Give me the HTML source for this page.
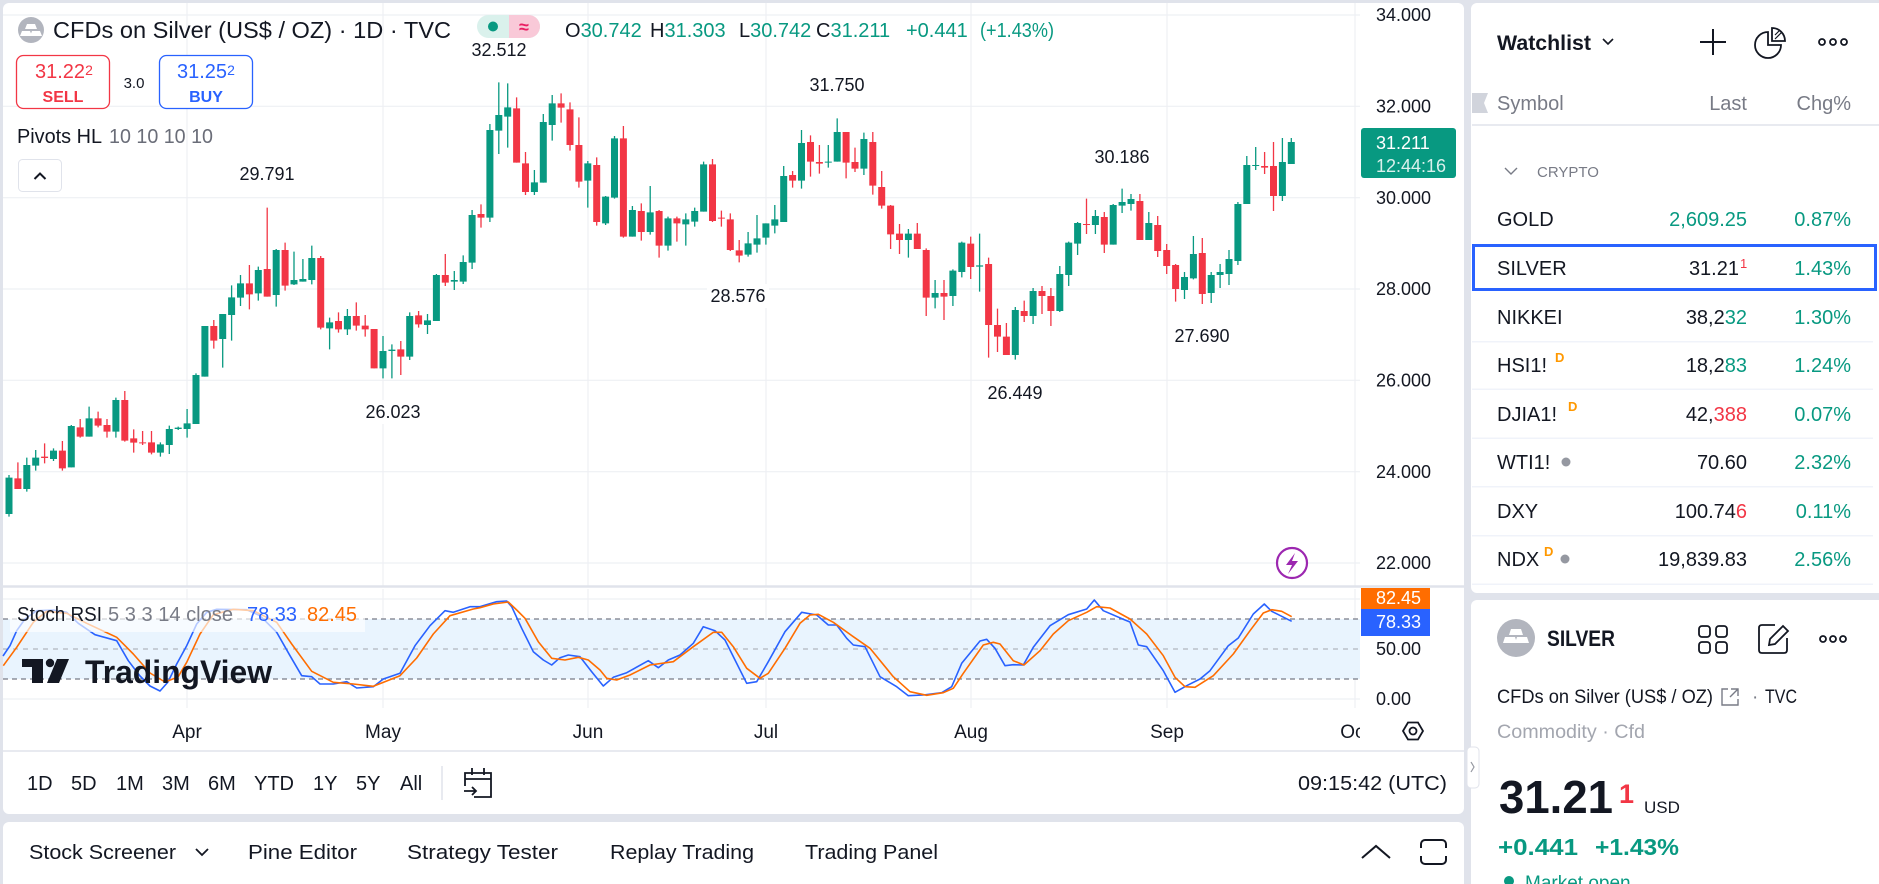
<!DOCTYPE html>
<html><head><meta charset="utf-8"><style>
html,body{margin:0;padding:0;background:#e0e3eb;}
svg{display:block;}
text{font-family:"Liberation Sans",sans-serif;fill:#131722;}
.g{fill:#787b86;}
.gr{fill:#089981;}
.rd{fill:#f23645;}
.ax{font-size:18px;}
.pv{font-size:18px;text-anchor:middle;}
.wl{font-size:20px;}
.end{text-anchor:end;}
</style></head><body>
<svg width="1879" height="884" viewBox="0 0 1879 884" xmlns="http://www.w3.org/2000/svg">
<rect x="0" y="0" width="1879" height="884" fill="#e0e3eb"/>
<!-- panels -->
<rect x="3" y="3" width="1461" height="811" rx="6" fill="#fff"/>
<rect x="3" y="822" width="1461" height="90" rx="6" fill="#fff"/>
<rect x="1471" y="3" width="420" height="590" rx="6" fill="#fff"/>
<rect x="1471" y="600" width="420" height="300" rx="6" fill="#fff"/>

<!-- gridlines main -->
<g stroke="#eef0f4" stroke-width="1.2">
<path d="M3 15H1360M3 106.3H1360M3 197.7H1360M3 289H1360M3 380.3H1360M3 471.7H1360M3 563H1360"/>
<path d="M187 3V586M383 3V586M588 3V586M766 3V586M971 3V586M1167 3V586M1355 3V586"/>
<path d="M187 589V708M383 589V708M588 589V708M766 589V708M971 589V708M1167 589V708M1355 589V708"/>
<path d="M3 599H1360M3 699H1360"/>
</g>
<!-- pane separator -->
<path d="M3 586.5H1464" stroke="#e0e3eb" stroke-width="2.5"/>
<!-- RSI band -->
<rect x="3" y="619" width="1357" height="60" fill="#e9f4fe"/>
<path d="M3 619H1360M3 679H1360" stroke="#787b86" stroke-width="1.3" stroke-dasharray="5 4"/>
<path d="M3 649H1360" stroke="#a3a6af" stroke-width="1" stroke-dasharray="5 5"/>

<!-- candles -->
<g transform="translate(0 60) scale(1 0.333333)" fill="none">
<path stroke="#089981" stroke-width="1.3" vector-effect="non-scaling-stroke" d="M9 1245V1370M26.8 1193V1295M35.7 1170V1232M53.5 1165V1203M71.3 1095V1222M89.1 1040V1130M115.9 1013V1133M160.4 1147V1190M169.3 1097V1182M178.2 1100V1110M187.1 1047V1133M196 940V1092M204.9 798V950M222.7 762V923M231.6 676V842M240.5 645V738M258.3 620V722M276.2 567V740M294 575V675M302.9 597V665M311.8 557V673M329.6 773V868M347.4 747V825M383 828V955M391.9 853V955M409.7 757V900M427.5 762V822M436.4 642V783M454.3 633V690M463.2 586V672M472.1 450V627M489.9 192V486M498.8 67V282M507.7 70V263M534.4 330V405M543.3 162V368M552.2 105V242M587.8 303V443M605.6 408V495M614.5 228V416M632.4 438V530M650.2 378V524M668 470V572M685.8 460V557M694.7 443V500M703.6 305V455M748.1 516V590M757 465V578M765.9 490V554M774.8 435V520M783.7 318V486M801.5 210V386M828.3 255V323M837.2 175V305M863.9 218V345M908.4 507V593M935.1 660V745M952.9 628V738M961.8 545V652M979.6 521V695M1015.3 741V899M1033.1 684V792M1059.8 618V756M1068.7 545V678M1077.6 486V585M1095.4 450V522M1113.2 432V554M1122.1 386V459M1131 402V452M1148.8 456V540M1184.5 636V717M1193.4 528V658M1211.2 636V729M1220.1 612V684M1229 570V675M1237.9 426V615M1246.8 288V432M1255.7 261V330M1282.4 234V423M1291.3 234V312"/>
<path stroke="#089981" stroke-width="7" vector-effect="non-scaling-stroke" d="M9 1253V1362M26.8 1215V1287M35.7 1193V1217M53.5 1172V1197M71.3 1098V1222M89.1 1075V1130M115.9 1020V1115M160.4 1153V1178M169.3 1107V1155M178.2 1103V1107M187.1 1090V1107M196 945V1092M204.9 798V950M222.7 762V837M231.6 712V765M240.5 670V713M258.3 630V700M276.2 570V705M294 660V673M302.9 657V665M311.8 594V660M329.6 787V805M347.4 768V808M383 873V925M391.9 869V873M409.7 768V890M427.5 781V795M436.4 645V783M454.3 660V665M463.2 606V665M472.1 465V608M489.9 210V473M498.8 165V212M507.7 142V170M534.4 367V396M543.3 186V368M552.2 130V195M587.8 310V362M605.6 410V490M614.5 235V413M632.4 450V530M650.2 457V516M668 475V557M685.8 478V493M694.7 453V485M703.6 313V455M748.1 550V584M757 535V554M765.9 490V533M774.8 478V497M783.7 348V486M801.5 249V362M828.3 305V308M837.2 216V305M863.9 237V326M908.4 521V540M935.1 699V713M952.9 632V708M961.8 548V636M979.6 616V620M1015.3 750V885M1033.1 693V768M1059.8 642V753M1068.7 548V645M1077.6 489V551M1095.4 468V495M1113.2 435V554M1122.1 426V437M1131 417V432M1148.8 489V540M1184.5 651V690M1193.4 582V655M1211.2 645V699M1220.1 636V645M1229 597V642M1237.9 432V603M1246.8 315V432M1255.7 315V318M1282.4 306V408M1291.3 246V312"/>
<path stroke="#f23645" stroke-width="1.3" vector-effect="non-scaling-stroke" d="M17.9 1207V1287M44.6 1150V1210M62.4 1143V1232M80.2 1077V1133M98.1 1055V1102M107 1077V1133M124.8 993V1145M133.7 1108V1178M142.6 1113V1155M151.5 1113V1183M213.8 780V866M249.4 615V748M267.2 443V710M285.1 548V692M320.7 588V808M338.5 757V818M356.3 727V812M365.2 765V830M374.1 807V925M400.8 843V945M418.6 753V803M445.3 582V678M481 433V503M516.6 112V308M525.5 276V405M561.1 100V188M570 127V272M578.9 172V383M596.7 292V497M623.4 198V533M641.3 430V542M659.1 450V593M676.9 470V545M712.5 297V486M721.4 452V500M730.3 460V573M739.2 540V607M792.6 333V383M810.5 226V350M819.4 255V341M846.1 216V355M855 263V336M872.8 216V404M881.7 333V446M890.6 435V567M899.5 492V582M917.3 489V567M926.2 565V768M944 660V780M970.7 530V657M988.6 593V893M997.5 746V876M1006.4 789V885M1024.2 722V786M1042 678V762M1050.9 684V798M1086.5 416V522M1104.3 456V579M1139.9 402V540M1157.7 468V591M1166.7 552V642M1175.6 612V725M1202.3 534V732M1264.6 276V342M1273.5 246V453"/>
<path stroke="#f23645" stroke-width="7" vector-effect="non-scaling-stroke" d="M17.9 1255V1287M44.6 1190V1194M62.4 1172V1225M80.2 1102V1130M98.1 1075V1097M107 1095V1115M124.8 1020V1142M133.7 1135V1148M142.6 1147V1150M151.5 1147V1178M213.8 798V842M249.4 670V703M267.2 627V710M285.1 570V677M320.7 594V803M338.5 783V808M356.3 768V797M365.2 797V808M374.1 807V925M400.8 868V890M418.6 766V793M445.3 645V668M481 462V473M516.6 145V308M525.5 310V396M561.1 130V143M570 148V255M578.9 255V365M596.7 315V486M623.4 235V530M641.3 453V516M659.1 453V557M676.9 475V490M712.5 313V483M721.4 473V476M730.3 478V570M739.2 571V587M792.6 345V362M810.5 246V305M819.4 306V311M846.1 216V308M855 306V326M872.8 246V377M881.7 381V437M890.6 437V523M899.5 521V540M917.3 521V567M926.2 570V713M944 699V710M970.7 551V621M988.6 612V795M997.5 795V830M1006.4 830V885M1024.2 753V768M1042 693V708M1050.9 708V753M1086.5 492V495M1104.3 471V554M1139.9 423V540M1157.7 495V573M1166.7 570V618M1175.6 615V687M1202.3 579V702M1264.6 318V323M1273.5 318V408"/>
</g>

<!-- pivot labels -->
<g fill="#fff">
<rect x="236" y="162" width="62" height="24"/>
<rect x="468" y="38" width="62" height="24"/>
<rect x="362" y="400" width="62" height="24"/>
<rect x="707" y="284" width="62" height="24"/>
<rect x="806" y="73" width="62" height="24"/>
<rect x="984" y="381" width="62" height="24"/>
<rect x="1091" y="145" width="62" height="24"/>
<rect x="1171" y="324" width="62" height="24"/>
</g>
<text class="pv" x="267" y="180">29.791</text>
<text class="pv" x="499" y="56">32.512</text>
<text class="pv" x="393" y="418">26.023</text>
<text class="pv" x="738" y="302">28.576</text>
<text class="pv" x="837" y="91">31.750</text>
<text class="pv" x="1015" y="399">26.449</text>
<text class="pv" x="1122" y="163">30.186</text>
<text class="pv" x="1202" y="342">27.690</text>

<!-- RSI lines -->
<polyline fill="none" stroke="#2962ff" stroke-width="1.6" stroke-linejoin="round" points="3,656 10,645.7 16.7,630.7 25,619 36.7,610.7 53.3,610 66.7,612.3 78.3,623.3 95,634.7 116.7,640.7 128.3,660.7 140,676 150,686 160,691 168,682 176.7,664 186.7,645.7 196.7,624 206.7,612.3 216.7,609.3 246.7,609.7 260,615.7 276.7,632.3 290,655.7 301.7,675.7 311.7,676.7 320,684 333.3,684 346.7,681.7 356.7,688 373.3,686.7 383.3,679 400,673.3 415,645.7 430,625.7 445,610.7 453.3,612.3 470,606.7 480,606.7 496.7,601.7 506.7,601 511.7,606.7 521.7,628.3 533.3,651.7 543.3,660 551.7,665 560,657.7 568.3,655 580,656.7 591.7,671.7 603.3,686 613.3,677.3 626.7,672.7 648.3,660.7 658.3,667.7 668.3,660 680,655 693.3,643.3 703.3,626.7 715,630.7 725,640 735,660 746.7,683.3 756.7,681.7 768.3,661.7 785,631.7 801.7,612.3 816.7,615 828.3,625 836.7,625 846.7,638.3 853.3,645 865,646.7 880,676.7 896.7,686.7 908.3,695.7 923.3,695 941.7,692.7 951.7,686.7 961.7,663.3 980,641 986.7,639.3 995,648.3 1005,665.7 1013.3,664.7 1023.3,665 1033.3,647.3 1050,625.7 1068.3,614.7 1086.7,609 1094.3,600 1103.3,610.7 1125,620 1130,622 1138.3,645 1146.7,646.7 1163.3,670.7 1175,692.3 1186.7,685.7 1200,679 1210,670.7 1228.3,645.7 1238.3,638 1253.3,614 1264.3,604 1271.7,611.3 1281.7,616.3 1291.7,621.3"/>
<polyline fill="none" stroke="#ff6d00" stroke-width="1.6" stroke-linejoin="round" points="3.3,665.7 16.7,647.3 33.3,622.3 46.7,611.3 66.7,613.3 86.7,623.3 116.7,637.3 133.3,654 150,673 165,682 178,677 186.7,662.3 200,634 213.3,614.7 233.3,609.3 253.3,610.7 276.7,622.3 291.7,644 311.7,671.3 333.3,682.3 353.3,684 373.3,686.3 400,675.7 416.7,658 433.3,634 450,615.7 473.3,609 480,607.7 493.3,604 508.3,602 516.7,610 525,618.3 538.3,641.7 551.7,658.3 565,660 578.3,657.3 588.3,660 600,670 606.7,678.3 616.7,680 630,675 650,665 673.3,661.7 693.3,646.7 713.3,632.3 721.7,632.3 733.3,646.7 746.7,668.3 760,678.3 768.3,673.3 785,648.3 800,623.3 810,615 818.3,614.3 833.3,622.3 853.3,636.7 870,648.3 893.3,676.7 910,691.7 926.7,695.3 943.3,692.7 953.3,688.3 963.3,673.3 983.3,645 993.3,642.3 1000,644 1013.3,660.7 1024,665 1040,650.7 1053.3,634 1068.3,620.7 1086.7,612.3 1096.7,606.7 1110,608 1130,619 1146.7,634 1163.3,655.7 1175,677.3 1185,686.7 1195,687.3 1213.3,675.7 1233.3,654 1250,630.7 1263.3,613 1271.7,609.7 1281.7,611.3 1291.7,616.7"/>

<!-- RSI legend -->
<rect x="10" y="600" width="355" height="32" fill="#fff" fill-opacity="0.65"/>
<text x="17" y="621" font-size="20" textLength="85" lengthAdjust="spacingAndGlyphs">Stoch RSI</text>
<text x="108" y="621" font-size="20" class="g" textLength="125" lengthAdjust="spacingAndGlyphs">5 3 3 14 close</text>
<text x="247" y="621" font-size="20" style="fill:#2962ff" textLength="50" lengthAdjust="spacingAndGlyphs">78.33</text>
<text x="307" y="621" font-size="20" style="fill:#ff6d00" textLength="50" lengthAdjust="spacingAndGlyphs">82.45</text>

<!-- TradingView watermark -->
<g fill="#131722">
<rect x="22" y="659" width="21" height="8"/>
<rect x="32" y="659" width="11" height="24"/>
<circle cx="50" cy="663" r="4.2"/>
<polygon points="57,659 69,659 59,683 47,683"/>
</g>
<text x="85" y="683" font-size="32" font-weight="bold" textLength="187" lengthAdjust="spacingAndGlyphs">TradingView</text>

<!-- price axis -->
<g class="ax">
<text x="1376" y="21" class="ax">34.000</text>
<text x="1376" y="112.5" class="ax">32.000</text>
<text x="1376" y="204" class="ax">30.000</text>
<text x="1376" y="295" class="ax">28.000</text>
<text x="1376" y="386.5" class="ax">26.000</text>
<text x="1376" y="478" class="ax">24.000</text>
<text x="1376" y="569" class="ax">22.000</text>
</g>
<rect x="1361" y="128" width="95" height="50" rx="3" fill="#089981"/>
<text x="1376" y="149" class="ax" style="fill:#fff">31.211</text>
<text x="1376" y="172" class="ax" style="fill:#fff;fill-opacity:0.85">12:44:16</text>
<!-- purple lightning -->
<circle cx="1292" cy="563" r="15" fill="#fff" stroke="#9c27b0" stroke-width="2.2"/>
<path d="M1295 553L1286 565H1292L1288 574L1298 561H1292Z" fill="#9c27b0"/>

<!-- RSI axis -->
<rect x="1361" y="588" width="69" height="21" fill="#ff6d00"/>
<text x="1376" y="604" class="ax" style="fill:#fff">82.45</text>
<rect x="1361" y="609" width="69" height="27" fill="#2962ff"/>
<text x="1376" y="628" class="ax" style="fill:#fff">78.33</text>
<text x="1376" y="655" class="ax">50.00</text>
<text x="1376" y="705" class="ax">0.00</text>

<!-- time axis -->
<g font-size="19">
<text x="187" y="738" text-anchor="middle">Apr</text>
<text x="383" y="738" text-anchor="middle">May</text>
<text x="588" y="738" text-anchor="middle">Jun</text>
<text x="766" y="738" text-anchor="middle">Jul</text>
<text x="971" y="738" text-anchor="middle">Aug</text>
<text x="1167" y="738" text-anchor="middle">Sep</text>
<text x="1355" y="738" text-anchor="middle">Oct</text>
</g>
<rect x="1360" y="714" width="100" height="34" fill="#fff"/>
<polygon points="1403,731 1408,722.5 1418,722.5 1423,731 1418,739.5 1408,739.5" fill="none" stroke="#131722" stroke-width="1.8"/>
<circle cx="1413" cy="731" r="3.5" fill="none" stroke="#131722" stroke-width="1.8"/>
<path d="M3 751H1464" stroke="#e0e3eb" stroke-width="1.5"/>

<!-- timeframe bar -->
<g font-size="20">
<text x="27" y="790">1D</text>
<text x="71" y="790">5D</text>
<text x="116" y="790">1M</text>
<text x="162" y="790">3M</text>
<text x="208" y="790">6M</text>
<text x="254" y="790">YTD</text>
<text x="313" y="790">1Y</text>
<text x="356" y="790">5Y</text>
<text x="400" y="790">All</text>
<text x="1298" y="790" textLength="149" lengthAdjust="spacingAndGlyphs">09:15:42 (UTC)</text>
</g>
<path d="M442 766V800" stroke="#e0e3eb" stroke-width="1.5"/>
<g fill="none" stroke="#131722" stroke-width="1.8">
<path d="M465 786V773H491V797H474"/>
<path d="M465 779H491M472 768V775M484 768V775"/>
<path d="M464 791H476M472 787L476 791L472 795"/>
</g>

<!-- bottom panel -->
<g font-size="20">
<text x="29" y="859" textLength="147" lengthAdjust="spacingAndGlyphs">Stock Screener</text>
<text x="248" y="859" textLength="109" lengthAdjust="spacingAndGlyphs">Pine Editor</text>
<text x="407" y="859" textLength="151" lengthAdjust="spacingAndGlyphs">Strategy Tester</text>
<text x="610" y="859" textLength="144" lengthAdjust="spacingAndGlyphs">Replay Trading</text>
<text x="805" y="859" textLength="133" lengthAdjust="spacingAndGlyphs">Trading Panel</text>
</g>
<path d="M196 849L202 855L208 849" fill="none" stroke="#131722" stroke-width="1.8"/>
<path d="M1362 858L1376 846L1390 858" fill="none" stroke="#131722" stroke-width="2"/>
<rect x="1421" y="840" width="25" height="24" rx="4" fill="none" stroke="#131722" stroke-width="2"/>
<path d="M1421 848V856M1446 848V856" stroke="#fff" stroke-width="4"/>
<!-- side collapse tab -->
<rect x="1467" y="747" width="12" height="41" rx="4" fill="#fff" stroke="#e0e3eb"/>
<path d="M1471 762L1474 767L1471 772" fill="none" stroke="#9598a1" stroke-width="1.2"/>

<!-- top-left legend -->
<circle cx="31" cy="30" r="13" fill="#b2b5be"/>
<g fill="#fff"><path d="M27 24H35L37 29H25Z"/><path d="M22 31H30L32 36H20Z"/><path d="M32 31H40L42 36H30Z"/></g>
<text x="53" y="38" font-size="23" textLength="398" lengthAdjust="spacingAndGlyphs">CFDs on Silver (US$ / OZ) · 1D · TVC</text>
<rect x="477" y="15" width="63" height="23" rx="11.5" fill="#daf1ec"/>
<path d="M509 15H528.5A11.5 11.5 0 0 1 528.5 38H509Z" fill="#f9c9d8"/>
<circle cx="493" cy="26.5" r="5" fill="#089981"/>
<text x="524" y="33" font-size="18" font-weight="bold" text-anchor="middle" style="fill:#e91e63">≈</text>
<g font-size="20">
<text x="565" y="37">O<tspan class="gr">30.742</tspan></text>
<text x="650" y="37">H<tspan class="gr">31.303</tspan></text>
<text x="739" y="37">L<tspan class="gr">30.742</tspan></text>
<text x="816" y="37">C<tspan class="gr">31.211</tspan></text>
<text x="906" y="37" class="gr">+0.441</text>
<text x="980" y="37" class="gr" textLength="74" lengthAdjust="spacingAndGlyphs">(+1.43%)</text>
</g>
<rect x="16.5" y="55.5" width="93" height="53" rx="7" fill="#fff" stroke="#f23645" stroke-width="1.3"/>
<text x="35" y="78" font-size="20" class="rd">31.22<tspan font-size="14" dy="-3">2</tspan></text>
<text x="63" y="102" font-size="16" font-weight="bold" text-anchor="middle" class="rd">SELL</text>
<text x="134" y="88" font-size="15" text-anchor="middle">3.0</text>
<rect x="159.5" y="55.5" width="93" height="53" rx="7" fill="#fff" stroke="#2962ff" stroke-width="1.3"/>
<text x="177" y="78" font-size="20" style="fill:#2962ff">31.25<tspan font-size="14" dy="-3">2</tspan></text>
<text x="206" y="102" font-size="16" font-weight="bold" text-anchor="middle" style="fill:#2962ff">BUY</text>
<text x="17" y="143" font-size="20" textLength="85" lengthAdjust="spacingAndGlyphs">Pivots HL</text>
<text x="109" y="143" font-size="20" style="fill:#6a6d78" textLength="104" lengthAdjust="spacingAndGlyphs">10 10 10 10</text>
<rect x="18.5" y="159.5" width="43" height="32" rx="4" fill="#fff" stroke="#e0e3eb"/>
<path d="M34.5 179L40 173.5L45.5 179" fill="none" stroke="#131722" stroke-width="2"/>

<!-- watchlist -->
<text x="1497" y="50" font-size="21" font-weight="bold" textLength="94" lengthAdjust="spacingAndGlyphs">Watchlist</text>
<path d="M1603 39L1608 44L1613 39" fill="none" stroke="#131722" stroke-width="1.6"/>
<path d="M1700 42H1726M1713 29V55" stroke="#131722" stroke-width="2"/>
<g fill="none" stroke="#131722" stroke-width="1.8">
<path d="M1768 32A13 13 0 1 0 1781 45H1768Z"/>
<path d="M1772 28A13 13 0 0 1 1785 41H1772Z"/>
<path d="M1775 35L1779 31M1775 39L1782 32" stroke-width="1.2"/>
<circle cx="1822" cy="42" r="3"/><circle cx="1833" cy="42" r="3"/><circle cx="1844" cy="42" r="3"/>
</g>
<polygon points="1472,93 1488,93 1484,103 1488,113 1472,113" fill="#d1d4dc"/>
<text x="1497" y="110" font-size="20" class="g">Symbol</text>
<text x="1747" y="110" font-size="20" class="g end">Last</text>
<text x="1851" y="110" font-size="20" class="g end">Chg%</text>
<path d="M1472 125H1879" stroke="#e0e3eb" stroke-width="1.5"/>
<path d="M1505 168L1511 174L1517 168" fill="none" stroke="#787b86" stroke-width="1.4"/>
<text x="1537" y="177" font-size="15" class="g">CRYPTO</text>

<g stroke="#f0f3fa" stroke-width="1.5">
<path d="M1472 341.7H1873M1472 389.3H1873M1472 438.3H1873M1472 486.7H1873M1472 535.7H1873M1472 584.3H1873"/>
</g>
<g class="wl" font-size="20">
<text x="1497" y="226" font-size="20">GOLD</text>
<text x="1747" y="226" font-size="20" class="end gr">2,609.25</text>
<text x="1851" y="226" font-size="20" class="end gr">0.87%</text>

<text x="1497" y="275" font-size="20">SILVER</text>
<text x="1739" y="275" font-size="20" class="end">31.21</text>
<text x="1740" y="268" font-size="13" class="rd">1</text>
<text x="1851" y="275" font-size="20" class="end gr">1.43%</text>

<text x="1497" y="324" font-size="20">NIKKEI</text>
<text x="1747" y="324" font-size="20" class="end">38,2<tspan class="gr">32</tspan></text>
<text x="1851" y="324" font-size="20" class="end gr">1.30%</text>

<text x="1497" y="372" font-size="20">HSI1!</text>
<text x="1555" y="362" font-size="13" font-weight="bold" style="fill:#ff9800">D</text>
<text x="1747" y="372" font-size="20" class="end">18,2<tspan class="gr">83</tspan></text>
<text x="1851" y="372" font-size="20" class="end gr">1.24%</text>

<text x="1497" y="421" font-size="20">DJIA1!</text>
<text x="1568" y="411" font-size="13" font-weight="bold" style="fill:#ff9800">D</text>
<text x="1747" y="421" font-size="20" class="end">42,<tspan class="rd">388</tspan></text>
<text x="1851" y="421" font-size="20" class="end gr">0.07%</text>

<text x="1497" y="469" font-size="20">WTI1!</text>
<circle cx="1566" cy="462" r="4.5" fill="#9598a1"/>
<text x="1747" y="469" font-size="20" class="end">70.60</text>
<text x="1851" y="469" font-size="20" class="end gr">2.32%</text>

<text x="1497" y="518" font-size="20">DXY</text>
<text x="1747" y="518" font-size="20" class="end">100.74<tspan class="rd">6</tspan></text>
<text x="1851" y="518" font-size="20" class="end gr">0.11%</text>

<text x="1497" y="566" font-size="20">NDX</text>
<text x="1544" y="556" font-size="13" font-weight="bold" style="fill:#ff9800">D</text>
<circle cx="1565" cy="559" r="4.5" fill="#9598a1"/>
<text x="1747" y="566" font-size="20" class="end">19,839.83</text>
<text x="1851" y="566" font-size="20" class="end gr">2.56%</text>
</g>
<rect x="1473.5" y="245.5" width="402" height="44" fill="none" stroke="#2962ff" stroke-width="3"/>

<!-- details panel -->
<circle cx="1516" cy="638" r="19" fill="#b2b5be"/>
<g fill="#fff"><path d="M1511 629H1521L1523 635H1509Z"/><path d="M1505 637H1515L1517 643H1503Z"/><path d="M1517 637H1527L1529 643H1515Z"/></g>
<text x="1547" y="646" font-size="22" font-weight="bold" textLength="68" lengthAdjust="spacingAndGlyphs">SILVER</text>
<g fill="none" stroke="#131722" stroke-width="1.8">
<rect x="1699" y="626" width="11" height="11" rx="3"/><rect x="1716" y="626" width="11" height="11" rx="3"/>
<rect x="1699" y="642" width="11" height="11" rx="3"/><rect x="1716" y="642" width="11" height="11" rx="3"/>
<path d="M1775 625H1762Q1759 625 1759 628V650Q1759 653 1762 653H1784Q1787 653 1787 650V638"/>
<path d="M1769 645L1770 639L1783 626L1788 631L1775 644Z"/>
<circle cx="1823" cy="639" r="3"/><circle cx="1833" cy="639" r="3"/><circle cx="1843" cy="639" r="3"/>
</g>
<text x="1497" y="703" font-size="19" textLength="216" lengthAdjust="spacingAndGlyphs">CFDs on Silver (US$ / OZ)</text>
<g fill="none" stroke="#787b86" stroke-width="1.4">
<path d="M1728 689H1722V705H1738V699"/><path d="M1731 689H1738V696M1738 689L1730 697"/>
</g>
<text x="1752" y="703" font-size="19" class="g">·</text>
<text x="1765" y="703" font-size="19" textLength="32" lengthAdjust="spacingAndGlyphs">TVC</text>
<text x="1497" y="738" font-size="19" style="fill:#a3a6af" textLength="148" lengthAdjust="spacingAndGlyphs">Commodity · Cfd</text>
<text x="1499" y="813" font-size="46" font-weight="bold" textLength="114" lengthAdjust="spacingAndGlyphs">31.21</text>
<text x="1619" y="803" font-size="27" font-weight="bold" class="rd">1</text>
<text x="1644" y="813" font-size="17">USD</text>
<text x="1498" y="855" font-size="23" font-weight="bold" class="gr" textLength="80" lengthAdjust="spacingAndGlyphs">+0.441</text>
<text x="1595" y="855" font-size="23" font-weight="bold" class="gr" textLength="84" lengthAdjust="spacingAndGlyphs">+1.43%</text>
<circle cx="1509" cy="881" r="5" fill="#089981"/>
<text x="1525" y="889" font-size="19" class="gr">Market open</text>
</svg>
</body></html>
